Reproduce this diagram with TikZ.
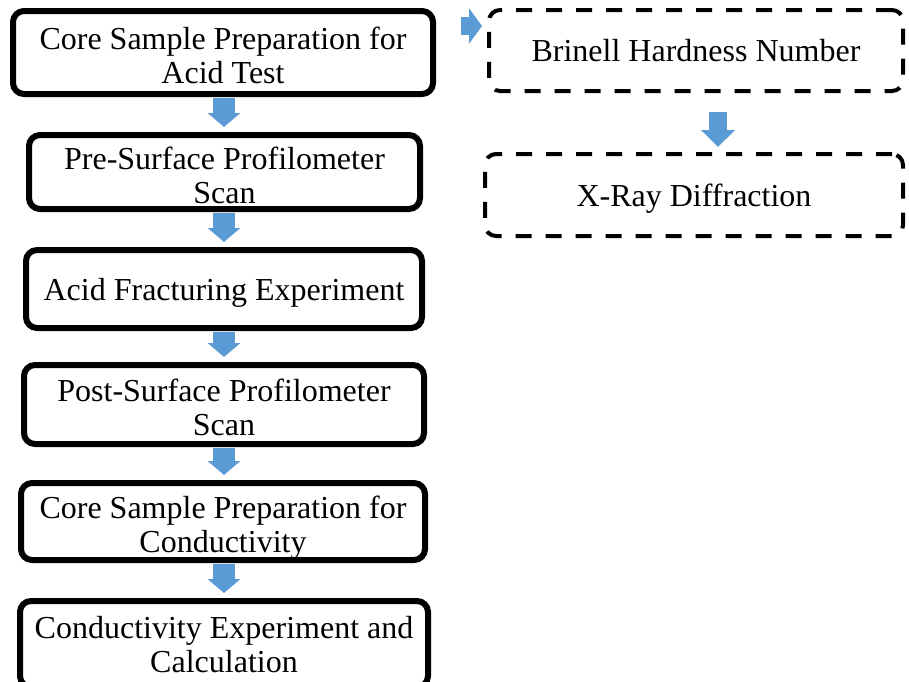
\documentclass[tikz,border=0pt]{standalone}
\usepackage{fontspec}
\setmainfont{Liberation Serif}
\usetikzlibrary{arrows.meta}
\definecolor{flowblue}{RGB}{91,155,213}
\newcommand{\lowstrut}{\rule{0pt}{28pt}}
\tikzset{
	stepbox/.style={draw, line width=6pt, rounded corners=11pt, align=center, inner sep=0pt, text depth=-2pt, font=\fontsize{32}{34}\selectfont},
	dashbox/.style={stepbox, line width=4pt, dash pattern=on 16pt off 14pt},
	downarrow/.style={flowblue, line width=22pt, -{Triangle[width=32pt,length=14pt]}, shorten <=1pt, shorten >=5pt},
	sidearrow/.style={flowblue, line width=18pt, -{Triangle[width=35pt,length=13pt]}},
}
\begin{document}
\begin{tikzpicture}[x=1pt,y=-1pt]
	\useasboundingbox (0,0) rectangle (909,681);

	% main steps
	\node[stepbox, minimum width=420pt, minimum height=83pt] (prep) at (223,52.5) {\lowstrut Core Sample Preparation for\\Acid Test};
	\node[stepbox, minimum width=391pt, minimum height=74pt] (prescan) at (224.5,172) {\lowstrut Pre-Surface Profilometer\\Scan};
	\node[stepbox, minimum width=396pt, minimum height=78pt] (frac) at (224,289) {Acid Fracturing Experiment};
	\node[stepbox, minimum width=400pt, minimum height=79pt] (postscan) at (224,404.5) {\lowstrut Post-Surface Profilometer\\Scan};
	\node[stepbox, minimum width=404pt, minimum height=77pt] (condprep) at (223,521.5) {\lowstrut Core Sample Preparation for\\Conductivity};
	\node[stepbox, minimum width=408pt, minimum height=86pt] (cond) at (224,644) {Conductivity Experiment and\\Calculation};

	% side tests
	\node[dashbox, minimum width=414pt, minimum height=81pt] (bhn) at (696,50.5) {Brinell Hardness Number};
	\node[dashbox, minimum width=418pt, minimum height=82pt] (xrd) at (694,195) {X-Ray Diffraction};

	% arrows
	\draw[downarrow] ([xshift=1pt]prep.south) -- ([xshift=-0.5pt]prescan.north);
	\draw[downarrow] ([xshift=-0.5pt]prescan.south) -- (frac.north);
	\draw[downarrow] (frac.south) -- (postscan.north);
	\draw[downarrow] (postscan.south) -- ([xshift=1pt]condprep.north);
	\draw[downarrow] ([xshift=1pt]condprep.south) -- (cond.north);
	\draw[sidearrow, shorten <=25pt, shorten >=5pt] ([yshift=26.5pt]prep.east) -- ([yshift=26.5pt]prep.east -| bhn.west);
	\draw[sidearrow, -{Triangle[width=33pt,length=17pt]}, shorten <=19pt, shorten >=5pt] ([xshift=22pt]bhn.south) -- ([xshift=24pt]xrd.north);

\end{tikzpicture}
\end{document}
